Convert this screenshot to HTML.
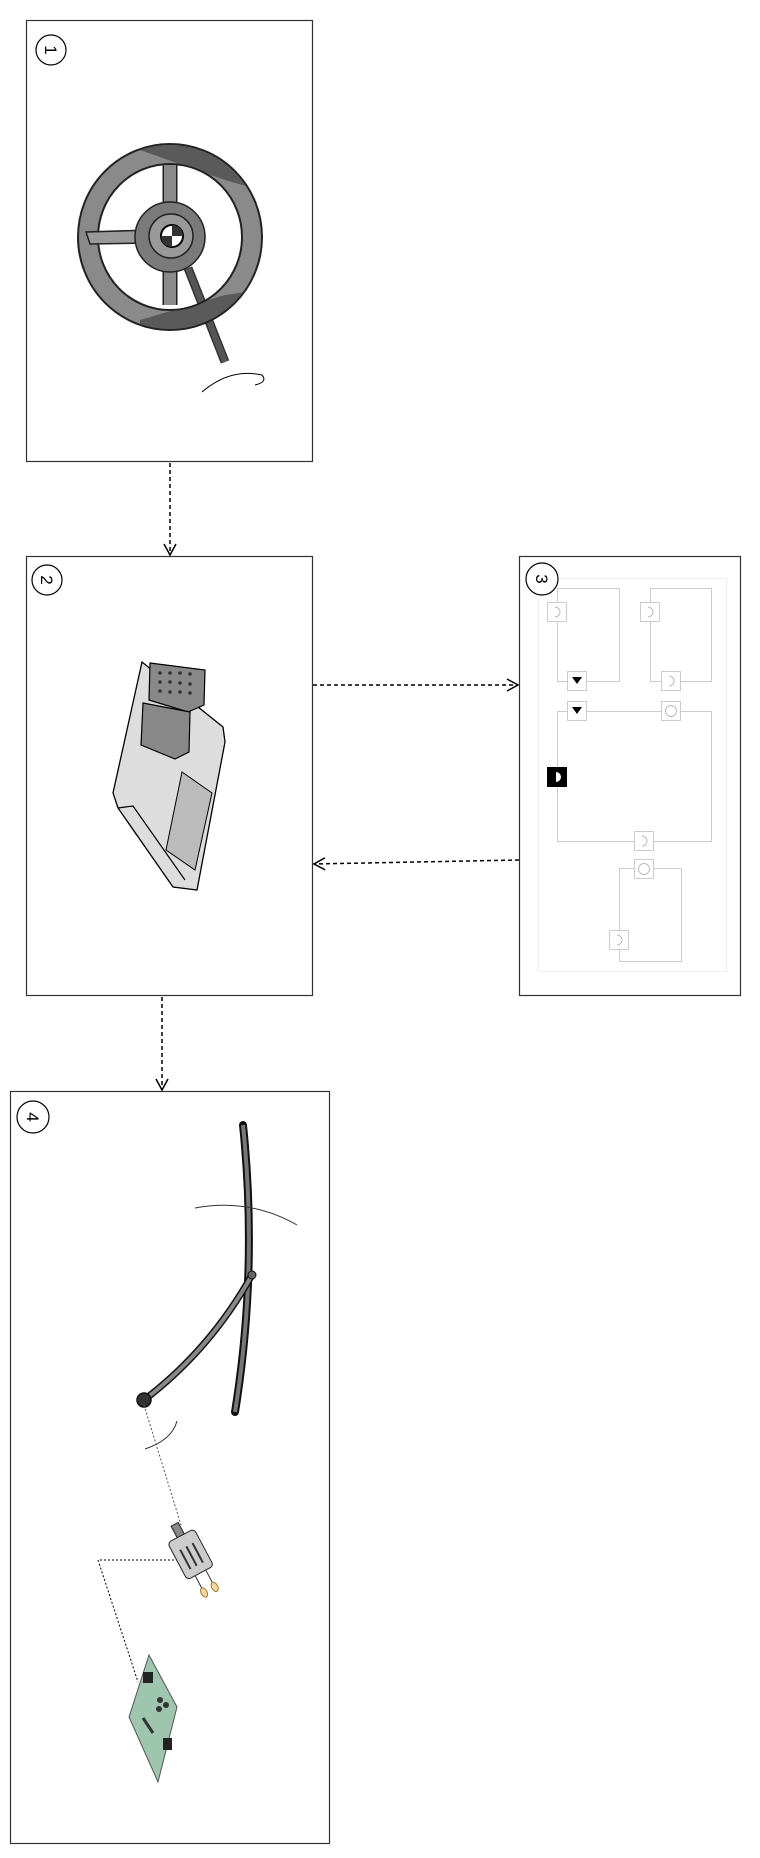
<!DOCTYPE html>
<html><head><meta charset="utf-8"><style>
body{margin:0;background:#fff;}
svg{display:block;font-family:"Liberation Sans",sans-serif;}
</style></head><body>
<svg width="760" height="1858" viewBox="0 0 760 1858">
<defs>
<marker id="ah" markerWidth="14" markerHeight="14" refX="12" refY="7" orient="auto" markerUnits="userSpaceOnUse">
<path d="M1,1 L12,7 L1,13" fill="none" stroke="#000" stroke-width="1.5"/></marker>
<clipPath id="topc"><path d="M140 120 L260 120 L260 190 L225 180 L140 150 Z"/></clipPath>
<clipPath id="botc"><path d="M140 340 L260 340 L260 290 L225 295 L140 320 Z"/></clipPath>
</defs>
<!-- Panel 1 -->
<g>
<rect x="26.5" y="20.5" width="286" height="441" fill="#fff" stroke="#333" stroke-width="1.2"/>
<circle cx="51" cy="50" r="15" fill="#fff" stroke="#000" stroke-width="1.2"/>
<text x="51" y="56" font-size="17" text-anchor="middle" transform="rotate(90 51 50)">1</text>
<g>
<line x1="188" y1="268" x2="225" y2="362" stroke="#333" stroke-width="9"/>
<line x1="188" y1="268" x2="225" y2="362" stroke="#555" stroke-width="6"/>
<ellipse cx="170" cy="237" rx="82" ry="83" fill="none" stroke="#222" stroke-width="22"/>
<ellipse cx="170" cy="237" rx="82" ry="83" fill="none" stroke="#8a8a8a" stroke-width="18"/>
<ellipse cx="170" cy="237" rx="82" ry="83" fill="none" stroke="#5a5a5a" stroke-width="18" clip-path="url(#topc)"/>
<ellipse cx="170" cy="237" rx="82" ry="83" fill="none" stroke="#5a5a5a" stroke-width="18" clip-path="url(#botc)"/>
<path d="M170 165 L170 305" stroke="#222" stroke-width="15"/>
<path d="M170 165 L170 305" stroke="#8a8a8a" stroke-width="12"/>
<path d="M86 232 L150 230 L150 243 L90 244 Z" fill="#999" stroke="#222" stroke-width="1.5"/>
<circle cx="170" cy="237" r="35" fill="#7a7a7a" stroke="#222" stroke-width="1.5"/>
<circle cx="171" cy="236" r="22" fill="#999" stroke="#222" stroke-width="1.5"/>
<circle cx="172" cy="236" r="11" fill="#fff" stroke="#000" stroke-width="2"/>
<path d="M172 225 A11 11 0 0 1 183 236 L172 236 Z" fill="#333"/>
<path d="M172 247 A11 11 0 0 1 161 236 L172 236 Z" fill="#333"/>
</g>
<path d="M202 392 Q230 368 262 375 Q268 382 255 385" fill="none" stroke="#000" stroke-width="1"/>
</g>
<!-- Panel 2 -->
<g>
<rect x="26.5" y="556.5" width="286" height="439" fill="#fff" stroke="#333" stroke-width="1.2"/>
<circle cx="47" cy="580" r="15" fill="#fff" stroke="#000" stroke-width="1.2"/>
<text x="47" y="586" font-size="17" text-anchor="middle" transform="rotate(90 47 580)">2</text>
<g>
<path d="M142 662 L223 727 L225 742 L197 890 L173 887 L118 808 L113 793 Z" fill="#ddd" stroke="#000" stroke-width="1.3"/>
<path d="M118 808 L133 806 L185 880" fill="none" stroke="#000" stroke-width="1.2"/>
<path d="M182 772 L212 793 L195 870 L166 850 Z" fill="#bbb" stroke="#000" stroke-width="1"/>
<path d="M150 663 L205 670 L204 705 L188 712 L149 700 Z" fill="#888" stroke="#000" stroke-width="1.2"/>
<path d="M143 703 L190 712 L189 752 L175 759 L141 745 Z" fill="#888" stroke="#000" stroke-width="1.2"/>
<g fill="#333"><circle cx="160" cy="673" r="1.8"/><circle cx="170" cy="673" r="1.8"/><circle cx="180" cy="673" r="1.8"/><circle cx="190" cy="674" r="1.8"/>
<circle cx="160" cy="682" r="1.8"/><circle cx="170" cy="682" r="1.8"/><circle cx="180" cy="683" r="1.8"/><circle cx="190" cy="684" r="1.8"/>
<circle cx="160" cy="691" r="1.8"/><circle cx="170" cy="692" r="1.8"/><circle cx="180" cy="692" r="1.8"/><circle cx="190" cy="693" r="1.8"/></g>
</g>
</g>
<!-- Panel 3 -->
<g>
<rect x="519.5" y="556.5" width="221" height="439" fill="#fff" stroke="#333" stroke-width="1.2"/>
<rect x="538.5" y="578.5" width="188" height="393" fill="none" stroke="#f0f0f0"/>
<g fill="none" stroke="#ccc" stroke-width="1">
<rect x="557.5" y="588.5" width="62" height="93"/>
<rect x="650.5" y="588.5" width="61" height="93"/>
<rect x="557.5" y="711.5" width="154" height="130"/>
<rect x="619.5" y="868.5" width="62" height="93"/>
</g>
<g fill="#fff" stroke="#ccc" stroke-width="1">
<rect x="547.5" y="602.5" width="19" height="19"/>
<rect x="567.5" y="671.5" width="19" height="19"/>
<rect x="640.5" y="602.5" width="19" height="19"/>
<rect x="661.5" y="671.5" width="19" height="19"/>
<rect x="567.5" y="701.5" width="19" height="19"/>
<rect x="661.5" y="701.5" width="19" height="19"/>
<rect x="634.5" y="831.5" width="19" height="19"/>
<rect x="634.5" y="859.5" width="19" height="19"/>
<rect x="609.5" y="930.5" width="19" height="19"/>
</g>
<rect x="547" y="767" width="20" height="20" fill="#000"/>
<path d="M556 772 A5 5 0 0 1 556 782" fill="#fff"/>
<g fill="none" stroke="#bbb" stroke-width="1">
<path d="M555 607 A5 5 0 0 1 555 617"/><path d="M648 607 A5 5 0 0 1 648 617"/>
<path d="M669 676 A5 5 0 0 1 669 686"/><path d="M642 836 A5 5 0 0 1 642 846"/>
<path d="M617 935 A5 5 0 0 1 617 945"/>
<circle cx="671" cy="711" r="5.5"/><circle cx="644" cy="869" r="5.5"/>
</g>
<path d="M572 677 L582 677 L577 684 Z" fill="#000"/>
<path d="M572 707 L582 707 L577 714 Z" fill="#000"/>
<circle cx="542" cy="579" r="16" fill="#fff" stroke="#000" stroke-width="1.2"/>
<text x="542" y="585" font-size="17" text-anchor="middle" transform="rotate(90 542 579)">3</text>
</g>
<!-- Panel 4 -->
<g>
<rect x="10.5" y="1091.5" width="319" height="752" fill="#fff" stroke="#333" stroke-width="1.2"/>
<circle cx="33" cy="1117" r="16" fill="#fff" stroke="#000" stroke-width="1.2"/>
<text x="33" y="1123" font-size="17" text-anchor="middle" transform="rotate(90 33 1117)">4</text>
<g>
<path d="M243 1125 Q258 1270 235 1412" fill="none" stroke="#111" stroke-width="8" stroke-linecap="round"/>
<path d="M243 1125 Q258 1270 235 1412" fill="none" stroke="#777" stroke-width="4"/>
<path d="M252 1275 Q210 1350 144 1400" fill="none" stroke="#111" stroke-width="7" stroke-linecap="round"/>
<path d="M252 1275 Q210 1350 144 1400" fill="none" stroke="#888" stroke-width="4"/>
<circle cx="252" cy="1275" r="4" fill="#666" stroke="#111"/>
<circle cx="144" cy="1400" r="7" fill="#333" stroke="#111" stroke-width="1.5"/>
</g>
<path d="M195 1208 Q250 1198 297 1225" fill="none" stroke="#333" stroke-width="1"/>
<path d="M145 1449 Q172 1440 177 1421" fill="none" stroke="#333" stroke-width="1"/>
<line x1="144" y1="1405" x2="181" y2="1525" stroke="#555" stroke-width="1" stroke-dasharray="2,2"/>
<polyline points="182,1560 98,1560 138,1682" fill="none" stroke="#000" stroke-width="1" stroke-dasharray="2,2"/>
<g transform="rotate(-28 192 1557)">
<rect x="188" y="1520" width="8" height="14" fill="#888" stroke="#222"/>
<rect x="177" y="1533" width="30" height="42" rx="4" fill="#ccc" stroke="#222"/>
<g stroke="#333" stroke-width="2"><line x1="185" y1="1545" x2="185" y2="1567"/><line x1="192" y1="1545" x2="192" y2="1567"/><line x1="199" y1="1545" x2="199" y2="1567"/></g>
<line x1="186" y1="1575" x2="186" y2="1590" stroke="#333"/><line x1="198" y1="1575" x2="198" y2="1590" stroke="#333"/>
<ellipse cx="186" cy="1594" rx="3" ry="5" fill="#f3d9a0" stroke="#a07830"/><ellipse cx="198" cy="1594" rx="3" ry="5" fill="#f3d9a0" stroke="#a07830"/>
</g>
<g>
<path d="M149 1655 L177 1707 L158 1782 L129 1717 Z" fill="#9ec5ae" stroke="#555"/>
<rect x="143" y="1672" width="10" height="11" fill="#222"/>
<rect x="163" y="1738" width="9" height="12" fill="#222"/>
<circle cx="160" cy="1700" r="3" fill="#333"/><circle cx="166" cy="1705" r="3" fill="#333"/><circle cx="159" cy="1709" r="3" fill="#333"/>
<line x1="143" y1="1718" x2="153" y2="1733" stroke="#333" stroke-width="3"/>
</g>
</g>
<!-- arrows -->
<line x1="170" y1="463" x2="170" y2="555" stroke="#000" stroke-width="1.5" stroke-dasharray="4,3" marker-end="url(#ah)"/>
<line x1="313" y1="685" x2="518" y2="685" stroke="#000" stroke-width="1.5" stroke-dasharray="4,3" marker-end="url(#ah)"/>
<line x1="519" y1="860" x2="314" y2="864" stroke="#000" stroke-width="1.5" stroke-dasharray="4,3" marker-end="url(#ah)"/>
<line x1="162" y1="997" x2="162" y2="1090" stroke="#000" stroke-width="1.5" stroke-dasharray="4,3" marker-end="url(#ah)"/>
</svg>
</body></html>
